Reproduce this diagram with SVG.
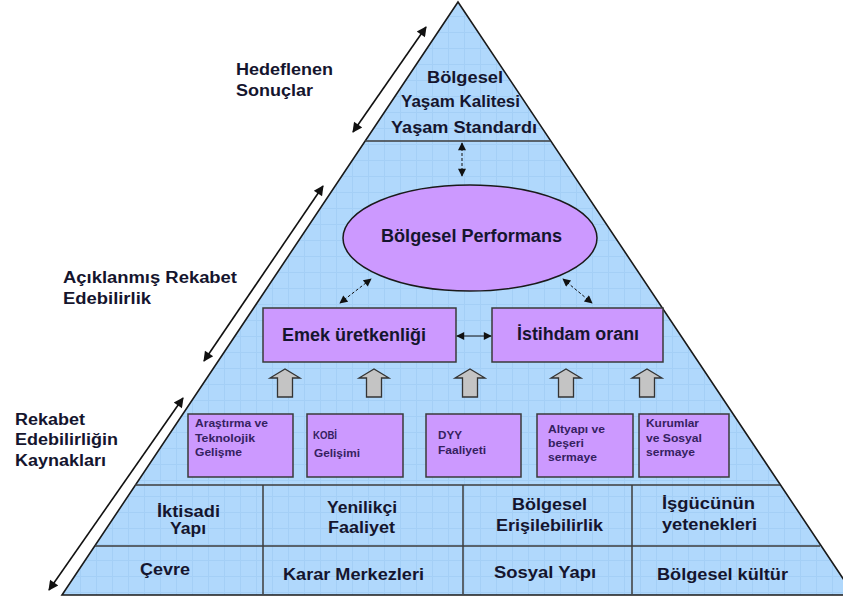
<svg xmlns="http://www.w3.org/2000/svg" width="843" height="599" viewBox="0 0 843 599">
<defs>
<style>
.t{font-family:"Liberation Sans",Arial,sans-serif;font-weight:bold;fill:#15152e}
.l16{font-size:16px}
.l18{font-size:18px}
.s10{font-size:10px;fill:#35215f}
.box{fill:#cc99ff;stroke:#3a3a3a;stroke-width:1.5}
.div{stroke:#3c3c3c;stroke-width:1.5;fill:none}
.big{stroke:#111;stroke-width:1.6;fill:none;marker-start:url(#mb);marker-end:url(#mb)}
.dash{stroke:#111;stroke-width:1;stroke-dasharray:3 2;fill:none;marker-start:url(#ms);marker-end:url(#ms)}
.solid{stroke:#111;stroke-width:1.2;fill:none;marker-start:url(#ms);marker-end:url(#ms)}
.up{fill:#c4c4c4;stroke:#333;stroke-width:1.3}
</style>
<pattern id="grid" width="16" height="16" patternUnits="userSpaceOnUse">
<path d="M0 0.5H16M0.5 0V16" stroke="#98c6f0" stroke-width="1" fill="none"/>
</pattern>
<marker id="mb" viewBox="0 0 10 10" refX="9" refY="5" markerWidth="13" markerHeight="10" markerUnits="userSpaceOnUse" orient="auto-start-reverse">
<path d="M0 0L10 5L0 10z" fill="#111"/>
</marker>
<marker id="ms" viewBox="0 0 10 10" refX="9" refY="5" markerWidth="10" markerHeight="8" markerUnits="userSpaceOnUse" orient="auto-start-reverse">
<path d="M0 0L10 5L0 10z" fill="#111"/>
</marker>
<g id="uparrow-shape"><path class="up" d="M-7.5 27V8H-15L0 -1L15 8H7.5V27Z"/></g>
</defs>
<rect width="843" height="599" fill="#ffffff"/>

<g id="pyramid">
<polygon points="458,2 62,595 854,595" fill="#b0d8fc"/>
<polygon points="458,2 62,595 854,595" fill="url(#grid)" opacity="0.5"/>
<polygon points="458,2 62,595 854,595" fill="none" stroke="#1a1a1a" stroke-width="1.6"/>
<line class="div" x1="365" y1="141" x2="550" y2="141" stroke="#5a6670"/>
<line class="div" x1="135" y1="485" x2="780" y2="485"/>
<line class="div" x1="95" y1="546" x2="820" y2="546"/>
<line class="div" x1="263" y1="485" x2="263" y2="594"/>
<line class="div" x1="463" y1="485" x2="463" y2="594"/>
<line class="div" x1="632" y1="485" x2="632" y2="594"/>
</g>

<g id="top-section">
<text class="t l16" x="427" y="83" textLength="76" lengthAdjust="spacingAndGlyphs">Bölgesel</text>
<text class="t l16" x="401" y="107" textLength="119" lengthAdjust="spacingAndGlyphs">Yaşam Kalitesi</text>
<text class="t l16" x="391" y="133" textLength="146" lengthAdjust="spacingAndGlyphs">Yaşam Standardı</text>
</g>

<g id="labels-left">
<text class="t l16" x="236" y="75" textLength="97" lengthAdjust="spacingAndGlyphs">Hedeflenen</text>
<text class="t l16" x="236" y="96" textLength="77" lengthAdjust="spacingAndGlyphs">Sonuçlar</text>
<text class="t l16" x="63" y="283" textLength="174" lengthAdjust="spacingAndGlyphs">Açıklanmış Rekabet</text>
<text class="t l16" x="63" y="304" textLength="88" lengthAdjust="spacingAndGlyphs">Edebilirlik</text>
<text class="t l16" x="15" y="425" textLength="70" lengthAdjust="spacingAndGlyphs">Rekabet</text>
<text class="t l16" x="15" y="445" textLength="103" lengthAdjust="spacingAndGlyphs">Edebilirliğin</text>
<text class="t l16" x="15" y="466" textLength="91" lengthAdjust="spacingAndGlyphs">Kaynakları</text>
</g>

<g id="performans">
<ellipse cx="470" cy="238" rx="127" ry="53" fill="#cc99ff" stroke="#1a1a1a" stroke-width="1.5"/>
<text class="t l18" x="381" y="242" textLength="181" lengthAdjust="spacingAndGlyphs">Bölgesel Performans</text>
</g>

<g id="emek">
<rect class="box" x="263" y="308" width="193" height="54"/>
<text class="t l18" x="282" y="341" textLength="144" lengthAdjust="spacingAndGlyphs">Emek üretkenliği</text>
</g>
<g id="istihdam">
<rect class="box" x="492" y="308" width="171" height="54"/>
<text class="t l18" x="517" y="340" textLength="122" lengthAdjust="spacingAndGlyphs">İstihdam oranı</text>
</g>

<g id="arge">
<rect class="box" x="188" y="414" width="105" height="63"/>
<text class="t s10" x="195" y="427" textLength="73" lengthAdjust="spacingAndGlyphs">Araştırma ve</text>
<text class="t s10" x="195" y="442" textLength="60" lengthAdjust="spacingAndGlyphs">Teknolojik</text>
<text class="t s10" x="195" y="456" textLength="47" lengthAdjust="spacingAndGlyphs">Gelişme</text>
</g>
<g id="kobi">
<rect class="box" x="307" y="414" width="96" height="63"/>
<text class="t s10" x="313" y="439" textLength="24" lengthAdjust="spacingAndGlyphs">KOBİ</text>
<text class="t s10" x="314" y="457" textLength="46" lengthAdjust="spacingAndGlyphs">Gelişimi</text>
</g>
<g id="dyy">
<rect class="box" x="426" y="414" width="95" height="63"/>
<text class="t s10" x="438" y="439" textLength="24" lengthAdjust="spacingAndGlyphs">DYY</text>
<text class="t s10" x="438" y="454" textLength="48" lengthAdjust="spacingAndGlyphs">Faaliyeti</text>
</g>
<g id="altyapi">
<rect class="box" x="537" y="414" width="96" height="63"/>
<text class="t s10" x="548" y="433" textLength="57" lengthAdjust="spacingAndGlyphs">Altyapı ve</text>
<text class="t s10" x="548" y="447" textLength="36" lengthAdjust="spacingAndGlyphs">beşeri</text>
<text class="t s10" x="548" y="461" textLength="49" lengthAdjust="spacingAndGlyphs">sermaye</text>
</g>
<g id="kurumlar">
<rect class="box" x="639" y="414" width="90" height="63"/>
<text class="t s10" x="646" y="427" textLength="53" lengthAdjust="spacingAndGlyphs">Kurumlar</text>
<text class="t s10" x="646" y="442" textLength="56" lengthAdjust="spacingAndGlyphs">ve Sosyal</text>
<text class="t s10" x="646" y="456" textLength="49" lengthAdjust="spacingAndGlyphs">sermaye</text>
</g>

<g id="table">
<text class="t l16" x="157" y="517" textLength="63" lengthAdjust="spacingAndGlyphs">İktisadi</text>
<text class="t l16" x="170" y="534" textLength="36" lengthAdjust="spacingAndGlyphs">Yapı</text>
<text class="t l16" x="327" y="513" textLength="70" lengthAdjust="spacingAndGlyphs">Yenilikçi</text>
<text class="t l16" x="328" y="533" textLength="67" lengthAdjust="spacingAndGlyphs">Faaliyet</text>
<text class="t l16" x="512" y="510" textLength="75" lengthAdjust="spacingAndGlyphs">Bölgesel</text>
<text class="t l16" x="496" y="531" textLength="107" lengthAdjust="spacingAndGlyphs">Erişilebilirlik</text>
<text class="t l16" x="662" y="509" textLength="93" lengthAdjust="spacingAndGlyphs">İşgücünün</text>
<text class="t l16" x="662" y="530" textLength="95" lengthAdjust="spacingAndGlyphs">yetenekleri</text>
<text class="t l16" x="140" y="575" textLength="50" lengthAdjust="spacingAndGlyphs">Çevre</text>
<text class="t l16" x="283" y="580" textLength="141" lengthAdjust="spacingAndGlyphs">Karar Merkezleri</text>
<text class="t l16" x="494" y="578" textLength="102" lengthAdjust="spacingAndGlyphs">Sosyal Yapı</text>
<text class="t l16" x="657" y="580" textLength="131" lengthAdjust="spacingAndGlyphs">Bölgesel kültür</text>
</g>

<g id="connectors">
<line class="big" x1="353" y1="132" x2="426" y2="27"/>
<line class="big" x1="204" y1="361" x2="323" y2="186"/>
<line class="big" x1="49" y1="590" x2="183" y2="398"/>
<line class="dash" x1="462" y1="143" x2="462" y2="176"/>
<line class="dash" x1="340" y1="303" x2="371" y2="279"/>
<line class="dash" x1="563" y1="279" x2="592" y2="303"/>
<line class="solid" x1="457" y1="336" x2="491" y2="336"/>
<use href="#uparrow-shape" x="285" y="370"/>
<use href="#uparrow-shape" x="374" y="370"/>
<use href="#uparrow-shape" x="470" y="370"/>
<use href="#uparrow-shape" x="566" y="370"/>
<use href="#uparrow-shape" x="647" y="370"/>
</g>
</svg>
